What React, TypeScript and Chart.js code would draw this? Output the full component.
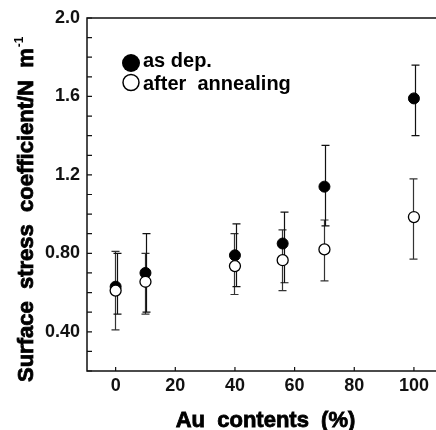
import React, { useEffect, useRef } from "react";
import { Chart, registerables } from "chart.js";

Chart.register(...registerables);

// ---- data ----
const auContents = [0, 10, 40, 56, 70, 100];
const asDep = [0.63, 0.7, 0.79, 0.85, 1.14, 1.59];
const asDepLow = [0.49, 0.5, 0.63, 0.65, 0.94, 1.4];
const asDepHigh = [0.8, 0.9, 0.95, 1.01, 1.35, 1.76];
const annealed = [0.61, 0.655, 0.735, 0.765, 0.82, 0.985];
const annealedLow = [0.41, 0.49, 0.59, 0.61, 0.66, 0.77];
const annealedHigh = [0.81, 0.8, 0.9, 0.92, 0.97, 1.18];

const xTicks = [0, 20, 40, 60, 80, 100];
const yTicks = [0.2, 0.3, 0.4, 0.5, 0.6, 0.7, 0.8, 0.9, 1.0, 1.1, 1.2, 1.3, 1.4, 1.5, 1.6, 1.7, 1.8, 1.9, 2.0];
const yLabelValues = [0.4, 0.8, 1.2, 1.6, 2.0];
const yLabelTexts = ["0.40", "0.80", "1.2", "1.6", "2.0"];

const seriesNames = ["as dep.", "after  annealing"];
const xTitle = "Au  contents  (%)";
const yTitle = "Surface  stress  coefficient/N  m";
const yTitleSup = "-1";

const FONT = "'Liberation Sans', Arial, Helvetica, sans-serif";

const decorPlugin = {
  id: "decor",
  beforeDatasetsDraw(chart: any) {
    const { ctx, scales } = chart;
    const x = scales.x;
    const y = scales.y;
    const cap = 4;
    const drawBars = (lo: number[], hi: number[], dx: number, color: string) => {
      ctx.save();
      ctx.strokeStyle = color;
      ctx.lineWidth = 1.2;
      auContents.forEach((v, i) => {
        const px = Math.round(x.getPixelForValue(v) + dx) + 0.5;
        const pl = y.getPixelForValue(lo[i]);
        const ph = y.getPixelForValue(hi[i]);
        ctx.beginPath();
        ctx.moveTo(px, pl);
        ctx.lineTo(px, ph);
        ctx.moveTo(px - cap, pl);
        ctx.lineTo(px + cap, pl);
        ctx.moveTo(px - cap, ph);
        ctx.lineTo(px + cap, ph);
        ctx.stroke();
      });
      ctx.restore();
    };
    drawBars(annealedLow, annealedHigh, -0.5, "#333");
    drawBars(asDepLow, asDepHigh, 1, "#111");
  },
  afterDraw(chart: any) {
    const { ctx, chartArea, scales } = chart;
    const { left, top, right, bottom } = chartArea;
    const x = scales.x;
    const y = scales.y;
    ctx.save();
    // frame
    ctx.strokeStyle = "#111";
    ctx.lineWidth = 1.5;
    ctx.beginPath();
    ctx.moveTo(right, top);
    ctx.lineTo(left, top);
    ctx.lineTo(left, bottom);
    ctx.lineTo(right, bottom);
    ctx.stroke();
    // inward ticks
    ctx.lineWidth = 1.2;
    ctx.beginPath();
    yTicks.forEach((v) => {
      const py = y.getPixelForValue(v);
      ctx.moveTo(left, py);
      ctx.lineTo(left + 5, py);
    });
    xTicks.forEach((v) => {
      const px = x.getPixelForValue(v);
      ctx.moveTo(px, bottom);
      ctx.lineTo(px, bottom - 4);
    });
    ctx.stroke();

    // legend
    const lx = left + 44;
    const ly1 = top + 45;
    const ly2 = top + 64.5;
    ctx.fillStyle = "#000";
    ctx.beginPath();
    ctx.arc(lx, ly1, 9, 0, Math.PI * 2);
    ctx.fill();
    ctx.fillStyle = "#fff";
    ctx.strokeStyle = "#000";
    ctx.lineWidth = 1.5;
    ctx.beginPath();
    ctx.arc(lx, ly2, 8, 0, Math.PI * 2);
    ctx.fill();
    ctx.stroke();
    ctx.fillStyle = "#000";
    ctx.font = `bold 20px ${FONT}`;
    ctx.textAlign = "left";
    ctx.textBaseline = "alphabetic";
    ctx.fillText(seriesNames[0], lx + 12, ly1 + 4);
    ctx.fillText(seriesNames[1], lx + 12, ly2 + 7);

    // x title
    ctx.font = `bold 22px ${FONT}`;
    ctx.textAlign = "center";
    ctx.lineWidth = 0.8;
    ctx.strokeStyle = "#000";
    const xc = (left + right) / 2 + 4;
    ctx.fillText(xTitle, xc, 427);
    ctx.strokeText(xTitle, xc, 427);

    // y title
    ctx.translate(33, bottom + 11);
    ctx.rotate(-Math.PI / 2);
    ctx.textAlign = "left";
    ctx.fillText(yTitle, 0, 0);
    ctx.strokeText(yTitle, 0, 0);
    const w = ctx.measureText(yTitle).width;
    ctx.font = `bold 12px ${FONT}`;
    ctx.fillText(yTitleSup, w + 1, -10);
    ctx.restore();
  },
};

export default function App() {
  const ref = useRef<HTMLCanvasElement | null>(null);
  useEffect(() => {
    document.body.style.margin = "0";
    if (!ref.current) return;
    const chart = new Chart(ref.current, {
      type: "scatter",
      data: {
        datasets: [
          {
            label: seriesNames[0],
            data: auContents.map((v, i) => ({ x: v, y: asDep[i] })),
            backgroundColor: "#000",
            borderColor: "#000",
            borderWidth: 1,
            pointRadius: 5.5,
            order: 1,
          },
          {
            label: seriesNames[1],
            data: auContents.map((v, i) => ({ x: v, y: annealed[i] })),
            backgroundColor: "#fff",
            borderColor: "#000",
            borderWidth: 1.3,
            pointRadius: 5.5,
            order: 0,
          },
        ],
      },
      options: {
        responsive: false,
        animation: false,
        devicePixelRatio: 1,
        layout: { autoPadding: false, padding: { top: 18, left: 0, right: 0, bottom: 0 } },
        plugins: { legend: { display: false }, tooltip: { enabled: false } },
        scales: {
          x: {
            type: "linear",
            min: -9.6,
            max: 107.4,
            afterBuildTicks: (s: any) => {
              s.ticks = xTicks.map((v) => ({ value: v }));
            },
            afterFit: (s: any) => {
              s.height = 59;
              s.paddingLeft = 0;
              s.paddingRight = 0;
            },
            ticks: {
              autoSkip: false,
              maxRotation: 0,
              padding: 4,
              color: "#111",
              font: { family: FONT, size: 18, weight: "bold" },
            },
            grid: { display: false, drawTicks: false },
            border: { display: false },
          },
          y: {
            type: "linear",
            min: 0.2,
            max: 2.0,
            afterBuildTicks: (s: any) => {
              s.ticks = yTicks.map((v) => ({ value: v }));
            },
            afterFit: (s: any) => {
              s.width = 87;
              s.paddingTop = 0;
              s.paddingBottom = 0;
            },
            ticks: {
              autoSkip: false,
              padding: 7,
              color: "#111",
              font: { family: FONT, size: 18, weight: "bold" },
              callback: (value: any) => {
                const idx = yLabelValues.findIndex((v) => Math.abs(v - Number(value)) < 1e-6);
                return idx >= 0 ? yLabelTexts[idx] : "";
              },
            },
            grid: { display: false, drawTicks: false },
            border: { display: false },
          },
        },
      },
      plugins: [decorPlugin],
    });
    return () => chart.destroy();
  }, []);
  return (
    <div style={{ width: 436, height: 430, background: "#fff" }}>
      <canvas ref={ref} width={436} height={430} style={{ display: "block", width: 436, height: 430 }} />
    </div>
  );
}
